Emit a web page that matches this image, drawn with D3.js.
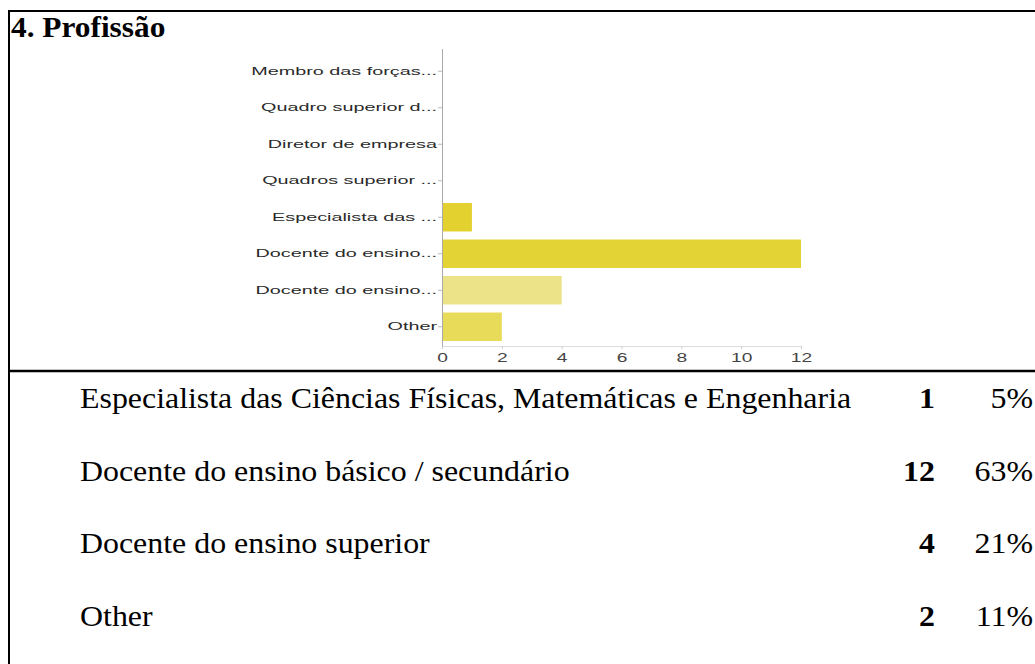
<!DOCTYPE html>
<html>
<head>
<meta charset="utf-8">
<script src="https://cdn.jsdelivr.net/npm/d3@7"></script>
<style>
  html, body { margin: 0; padding: 0; background: #fff; overflow: hidden; }
  svg { display: block; }
</style>
</head>
<body>
<script>
// chart data
const categories = ["Membro das forças...", "Quadro superior d...", "Diretor de empresa", "Quadros superior ...",
  "Especialista das ...", "Docente do ensino...", "Docente do ensino...", "Other"];
const values = [0, 0, 0, 0, 1, 12, 4, 2];
const barColors = ["#e2d12e", "#e2d12e", "#e2d12e", "#e2d12e", "#e2d12e", "#e3d334", "#ece288", "#e8db5a"];
const xTicks = [0, 2, 4, 6, 8, 10, 12];

// table under the chart
const tableLabels = ["Especialista das Ciências Físicas, Matemáticas e Engenharia",
  "Docente do ensino básico / secundário", "Docente do ensino superior", "Other"];
const tableCounts = [1, 12, 4, 2];
const tablePercents = ["5%", "63%", "21%", "11%"];

const WIDTH = 1035, HEIGHT = 664;
const svg = d3.select("body").append("svg").attr("width", WIDTH).attr("height", HEIGHT);
svg.append("rect").attr("width", WIDTH).attr("height", HEIGHT).attr("fill", "#fff");

// frame
svg.append("line").attr("x1", 9).attr("x2", 9).attr("y1", 10).attr("y2", HEIGHT)
  .attr("stroke", "#000").attr("stroke-width", 2);
svg.append("line").attr("x1", 8).attr("x2", WIDTH).attr("y1", 11).attr("y2", 11)
  .attr("stroke", "#000").attr("stroke-width", 2);
svg.append("line").attr("x1", 8).attr("x2", WIDTH).attr("y1", 371).attr("y2", 371)
  .attr("stroke", "#000").attr("stroke-width", 2.5);

const serif = "'Liberation Serif', 'Times New Roman', serif";
const wide = 1.1; // the page text is a little wider than plain Times

svg.append("text").attr("transform", `translate(11,37) scale(${wide},1)`)
  .style("font-family", serif)
  .style("font-weight", "bold").style("font-size", "28.5px")
  .text("4. Profissão");

// bar chart
const stretch = 1.8;
const x = d3.scaleLinear().domain([0, 12]).range([442, 801]);
const y = d3.scaleBand().domain(d3.range(categories.length)).range([53, 345])
  .paddingInner(0.22).paddingOuter(0.11);

const chart = svg.append("g");

chart.selectAll("rect.bar")
  .data(values)
  .enter()
  .append("rect")
  .attr("class", "bar")
  .attr("x", x(0))
  .attr("y", (d, i) => y(i))
  .attr("width", d => x(d) - x(0))
  .attr("height", y.bandwidth())
  .attr("fill", (d, i) => barColors[i]);

const yAxis = chart.append("g")
  .attr("transform", `translate(${x(0)},0)`)
  .call(d3.axisLeft(y).tickSize(4).tickFormat(i => categories[i]));
yAxis.select(".domain").attr("stroke", "#aaa").attr("d", "M0.5,49V346");
yAxis.selectAll(".tick line").attr("stroke", "#bbb");
yAxis.selectAll(".tick text")
  .attr("x", -5 / stretch)
  .attr("transform", `scale(${stretch},1)`)
  .attr("fill", "#2a2a2a")
  .style("font-family", "'Liberation Sans', Arial, sans-serif")
  .style("font-size", "11px");

const xAxis = chart.append("g")
  .attr("transform", "translate(0,346)")
  .call(d3.axisBottom(x).tickValues(xTicks).tickSize(3).tickPadding(4));
xAxis.select(".domain").attr("stroke", "#ddd");
xAxis.selectAll(".tick line").attr("stroke", "#ccc");
xAxis.selectAll(".tick text")
  .attr("transform", "scale(1.6,1)")
  .attr("fill", "#444")
  .style("font-family", "'Liberation Sans', Arial, sans-serif")
  .style("font-size", "12px");

// table rows
const rowY = d3.scalePoint().domain(d3.range(tableLabels.length)).range([408, 626]);

const rows = svg.selectAll("g.row")
  .data(tableLabels)
  .enter()
  .append("g")
  .attr("class", "row")
  .attr("transform", (d, i) => `translate(0,${rowY(i)})`)
  .style("font-family", serif)
  .style("font-size", "29px");

rows.append("text").attr("transform", `translate(80,0) scale(${wide},1)`).text(d => d);
rows.append("text").attr("transform", `translate(935,0) scale(${wide},1)`).attr("text-anchor", "end")
  .style("font-weight", "bold").text((d, i) => tableCounts[i]);
rows.append("text").attr("transform", `translate(1033,0) scale(${wide},1)`).attr("text-anchor", "end")
  .text((d, i) => tablePercents[i]);
</script>
</body>
</html>
